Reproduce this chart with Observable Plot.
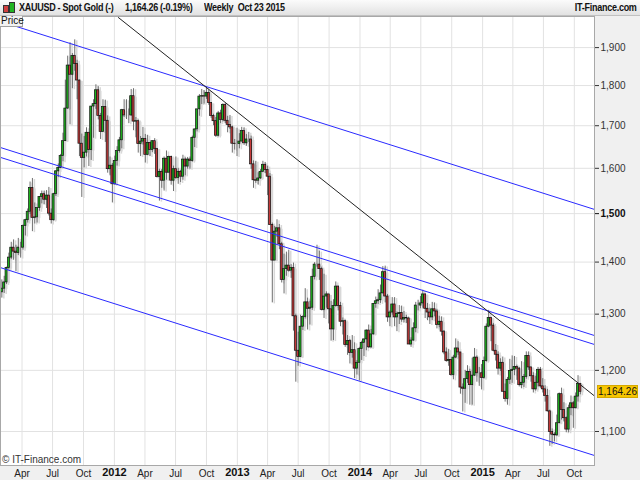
<!DOCTYPE html>
<html><head><meta charset="utf-8">
<script src="https://cdn.jsdelivr.net/npm/d3@7"></script>
<script src="https://cdn.jsdelivr.net/npm/@observablehq/plot@0.6"></script>
<style>
body{margin:0;background:#fff;font-family:"Liberation Sans",Arial,sans-serif;}
#wrap{position:relative;width:640px;height:480px;overflow:hidden;background:#f0f0f0;}
#hdr{position:absolute;left:0;top:0;width:640px;height:15px;background:linear-gradient(#fbfbfb,#e2e2e2);border-bottom:1px solid #c0c0c0;font-weight:bold;font-size:10px;letter-spacing:-0.3px;color:#111;z-index:2;}
#hdr span{position:absolute;top:1px;white-space:pre;line-height:13px;transform:scaleX(0.9);transform-origin:left center;}
#hdr span.r{transform-origin:right center;}
#chart{position:absolute;left:0;top:16px;}
#price{position:absolute;left:0;top:16px;width:21px;height:10px;border:1px solid #a0a0a0;border-top:none;border-left:none;background:#f2f2f2;font-size:10px;line-height:10px;color:#111;padding-left:1px;z-index:2;}
#copy{position:absolute;left:2px;top:454px;font-size:10px;color:#333;}
#tag{position:absolute;left:597px;width:41px;height:13px;background:#f7c600;border:1px solid #d4a800;box-sizing:border-box;font-size:10px;line-height:12px;text-align:center;color:#111;}
.ic{position:absolute;width:4px;border:1px solid #333;}
</style></head>
<body>
<div id="wrap">
  <div id="hdr">
    <div class="ic" style="left:3px;top:5px;height:6px;background:#d04040"></div>
    <div class="ic" style="left:9px;top:2px;height:9px;background:#22b422"></div>
    <span style="left:19px">XAUUSD - Spot Gold (-)</span>
    <span style="left:125px">1,164.26 (-0.19%)</span>
    <span style="left:204px">Weekly  Oct 23 2015</span>
    <span class="r" style="right:3px">IT-Finance.com</span>
  </div>
  <div id="chart"></div>
  <div id="price">Price</div>
  <div id="copy">© IT-Finance.com</div>
  <div id="tag">1,164.26</div>
</div>
<script>
// Weekly candles [open, high, low, close], weeks ending Friday, from 2011-02-04 to 2015-10-23
const w2011 = [
[1341,1365,1330,1348],[1348,1372,1339,1360],[1360,1390,1356,1388],[1388,1418,1384,1409],
[1409,1440,1405,1429],[1429,1445,1404,1421],[1421,1434,1381,1418],[1418,1448,1413,1429],
[1429,1440,1408,1429],[1429,1476,1424,1474],[1474,1488,1453,1486],[1486,1510,1480,1504],[1504,1569,1498,1556],
[1556,1577,1462,1491],[1491,1523,1478,1492],[1492,1512,1480,1512],[1512,1537,1505,1536],
[1536,1549,1521,1542],[1542,1549,1519,1530],[1530,1550,1511,1539],[1539,1557,1495,1500],
[1500,1510,1478,1486],[1486,1544,1484,1542],[1542,1595,1537,1593],[1593,1610,1579,1601],[1601,1632,1599,1628],
[1628,1682,1615,1663],[1663,1814,1662,1742],[1742,1877,1740,1852],[1852,1913,1702,1828],
[1828,1884,1792,1877],[1877,1921,1837,1856],[1856,1866,1764,1813],[1813,1814,1627,1657],[1657,1680,1535,1624],
[1624,1674,1601,1636],[1636,1695,1626,1683],[1683,1683,1604,1642],[1642,1747,1618,1747],
[1747,1764,1670,1753],[1753,1802,1740,1788],[1788,1797,1714,1724],[1724,1730,1667,1685],
[1685,1764,1684,1746],[1746,1763,1660,1712],[1712,1724,1589,1598],[1598,1626,1583,1606],[1606,1611,1523,1564]
];
const w2012 = [
[1564,1628,1562,1617],[1617,1650,1605,1640],[1640,1672,1635,1665],[1665,1740,1645,1738],
[1738,1764,1720,1725],[1725,1764,1715,1725],[1725,1741,1705,1725],[1725,1790,1723,1773],
[1773,1792,1688,1710],[1710,1720,1671,1711],[1711,1714,1635,1656],[1656,1674,1627,1662],[1662,1696,1654,1668],
[1668,1679,1612,1631],[1631,1677,1629,1659],[1659,1660,1627,1642],[1642,1664,1636,1663],
[1663,1669,1632,1645],[1645,1645,1578,1580],[1580,1598,1527,1592],[1592,1597,1555,1572],
[1572,1626,1549,1622],[1622,1640,1573,1590],[1590,1628,1590,1626],[1626,1628,1562,1572],[1572,1605,1548,1598],
[1598,1626,1575,1578],[1578,1600,1564,1592],[1592,1595,1568,1581],[1581,1630,1573,1620],
[1620,1624,1583,1604],[1604,1625,1598,1620],[1620,1626,1598,1617],[1617,1675,1614,1671],[1671,1692,1648,1691],
[1691,1740,1685,1740],[1740,1777,1723,1772],[1772,1790,1752,1773],[1773,1787,1753,1772],
[1772,1796,1765,1781],[1781,1788,1750,1756],[1756,1756,1718,1724],[1724,1728,1700,1711],
[1711,1720,1672,1676],[1676,1735,1673,1730],[1730,1738,1705,1714],[1714,1754,1709,1751],[1751,1755,1705,1712],
[1712,1723,1683,1702],[1702,1725,1691,1696],[1696,1699,1635,1657],[1657,1667,1642,1656]
];
const w2013 = [
[1656,1694,1627,1656],[1656,1681,1645,1662],[1662,1696,1662,1687],[1687,1695,1653,1658],
[1658,1679,1651,1667],[1667,1684,1660,1667],[1667,1675,1598,1609],[1609,1617,1555,1573],
[1573,1616,1566,1572],[1572,1590,1562,1577],[1577,1597,1575,1592],[1592,1616,1590,1608],[1608,1613,1588,1596],
[1596,1605,1539,1581],[1581,1588,1475,1476],[1476,1480,1321,1403],[1403,1473,1403,1462],
[1462,1487,1450,1469],[1469,1477,1425,1436],[1436,1440,1359,1365],[1365,1416,1338,1386],[1386,1420,1372,1393],
[1393,1424,1380,1383],[1383,1395,1368,1388],[1388,1398,1269,1296],[1296,1300,1180,1234],
[1234,1267,1207,1223],[1223,1298,1222,1277],[1277,1297,1270,1295],[1295,1348,1291,1322],
[1322,1330,1271,1310],[1310,1324,1280,1312],[1312,1386,1307,1371],[1371,1399,1365,1395],[1395,1434,1390,1395],
[1395,1422,1364,1386],[1386,1390,1306,1308],[1308,1376,1292,1333],[1333,1342,1311,1337],
[1337,1337,1282,1309],[1309,1324,1251,1272],[1272,1327,1252,1315],[1315,1361,1313,1352],
[1352,1353,1306,1315],[1315,1322,1277,1286],[1286,1293,1262,1287],[1287,1289,1240,1244],[1244,1261,1226,1251],
[1251,1254,1211,1230],[1230,1261,1221,1235],[1235,1248,1186,1203],[1203,1217,1192,1213]
];
const w2014 = [
[1213,1240,1182,1237],[1237,1251,1217,1248],[1248,1255,1224,1254],[1254,1271,1234,1270],[1270,1280,1238,1240],
[1240,1272,1238,1263],[1263,1319,1262,1319],[1319,1332,1311,1324],[1324,1346,1318,1326],
[1326,1355,1320,1339],[1339,1391,1338,1380],[1380,1392,1321,1333],[1333,1337,1285,1294],
[1294,1306,1277,1303],[1303,1331,1298,1318],[1318,1331,1277,1294],[1294,1304,1268,1300],
[1300,1316,1281,1302],[1302,1315,1285,1290],[1290,1305,1284,1293],[1293,1298,1283,1292],[1292,1294,1251,1245],
[1245,1257,1240,1252],[1252,1284,1251,1274],[1274,1322,1266,1316],[1316,1326,1306,1316],
[1316,1333,1310,1320],[1320,1345,1311,1337],[1337,1338,1292,1310],[1310,1320,1288,1303],
[1303,1311,1281,1294],[1294,1322,1288,1309],[1309,1321,1295,1305],[1305,1309,1273,1280],[1280,1296,1275,1286],
[1286,1295,1260,1268],[1268,1270,1227,1231],[1231,1239,1214,1216],[1216,1236,1207,1218],
[1218,1219,1190,1192],[1192,1226,1184,1222],[1222,1255,1220,1238],[1238,1250,1226,1231],[1231,1231,1160,1171],
[1171,1177,1131,1169],[1169,1200,1145,1185],[1185,1208,1178,1197],[1197,1202,1142,1175],
[1175,1221,1142,1191],[1191,1238,1190,1222],[1222,1225,1180,1195],[1195,1205,1173,1195]
];
const w2015 = [
[1195,1210,1167,1187],[1187,1223,1185,1216],[1216,1282,1214,1277],[1277,1307,1275,1293],[1293,1294,1250,1279],
[1279,1283,1232,1234],[1234,1245,1216,1227],[1227,1232,1192,1203],[1203,1220,1198,1213],
[1213,1223,1164,1164],[1164,1177,1147,1152],[1152,1188,1142,1184],[1184,1219,1176,1199],
[1199,1225,1178,1201],[1201,1224,1191,1206],[1206,1209,1183,1203],[1203,1205,1172,1175],
[1175,1215,1169,1179],[1179,1193,1171,1189],[1189,1232,1185,1225],[1225,1232,1200,1205],[1205,1206,1180,1190],
[1190,1196,1162,1168],[1168,1190,1165,1179],[1179,1205,1172,1201],[1201,1205,1170,1173],
[1173,1186,1162,1168],[1168,1174,1147,1157],[1157,1168,1131,1132],[1132,1134,1077,1099],[1099,1104,1080,1095],
[1095,1098,1084,1094],[1094,1126,1092,1113],[1113,1162,1112,1160],[1160,1170,1118,1134],
[1134,1146,1115,1121],[1121,1123,1098,1103],[1103,1142,1098,1137],[1137,1157,1125,1145],
[1145,1148,1105,1137],[1137,1162,1136,1156],[1156,1191,1147,1177],[1177,1178,1159,1164]
];
const priceTicks = [1100, 1200, 1300, 1400, 1500, 1600, 1700, 1800, 1900];
const majorPriceTick = 1500;
const lastPrice = 1164.26;

// Trend lines drawn on the chart (date, price endpoints)
const channelUpper = [{date: "2011-01-27", price: 1972}, {date: "2015-11-30", price: 1509}];
const channelMidA  = [{date: "2011-01-27", price: 1648}, {date: "2015-11-30", price: 1261}];
const channelMidB  = [{date: "2011-01-27", price: 1625}, {date: "2015-11-30", price: 1245}];
const channelLower = [{date: "2011-01-27", price: 1389}, {date: "2015-11-30", price: 1063}];
const resistance   = [{date: "2012-01-13", price: 1983}, {date: "2015-11-30", price: 1157}];

const ohlc = [...w2011, ...w2012, ...w2013, ...w2014, ...w2015];
const fridays = d3.utcFriday.range(new Date(Date.UTC(2011, 1, 4)), new Date(Date.UTC(2015, 9, 24)));
const n = Math.min(ohlc.length, fridays.length);
const candles = d3.range(n).map(i => ({
  date: d3.utcDay.offset(fridays[i], -4),
  open: ohlc[i][0], high: ohlc[i][1], low: ohlc[i][2], close: ohlc[i][3]
}));
const lines = [channelUpper, channelMidA, channelMidB, channelLower].map(l => l.map(p => ({date: new Date(p.date), price: p.price})));
const blackLine = resistance.map(p => ({date: new Date(p.date), price: p.price}));

const quarterTicks = d3.utcMonth.every(3).range(new Date(Date.UTC(2011, 3, 1)), new Date(Date.UTC(2015, 10, 1)));
const monthTicks = quarterTicks.filter(d => d.getUTCMonth() !== 0);
const yearTicks = quarterTicks.filter(d => d.getUTCMonth() === 0);
const fmt = d3.format(",");
const green = "#1db21d", red = "#c63a3a";

const chart = Plot.plot({
  width: 640, height: 464,
  marginLeft: 0, marginRight: 46, marginTop: 0, marginBottom: 15,
  style: {background: "transparent", fontFamily: "Liberation Sans, Arial, sans-serif", fontSize: "10px", color: "#333"},
  x: {type: "utc", domain: [new Date("2011-01-27"), new Date("2015-11-30")], label: null},
  y: {type: "log", domain: [1048, 1986], label: null},
  marks: [
    Plot.frame({fill: "white", stroke: null}),
    Plot.gridX(quarterTicks, {stroke: "#e2e2e2", strokeOpacity: 1}),
    Plot.gridY(priceTicks, {stroke: "#e2e2e2", strokeOpacity: 1}),
    Plot.ruleX(candles, {x: "date", y1: "low", y2: "high", stroke: "#d8d8d8", strokeWidth: 1.5, dx: 2, dy: 1}),
    Plot.ruleX(candles, {x: "date", y1: "open", y2: "close", stroke: "#d8d8d8", strokeWidth: 2.5, dx: 2, dy: 1}),
    Plot.ruleX(candles, {x: "date", y1: "low", y2: "high", stroke: "#6e6e6e", strokeWidth: 1}),
    Plot.rect(candles, {
      x1: d => d3.utcDay.offset(d.date, -3), x2: d => d3.utcDay.offset(d.date, 3),
      y1: "open", y2: "close",
      fill: d => d.close >= d.open ? green : red, stroke: "#111", strokeWidth: 0.7
    }),
    ...lines.map(l => Plot.line(l, {x: "date", y: "price", stroke: "#2a2aff", strokeWidth: 1, clip: true})),
    Plot.line(blackLine, {x: "date", y: "price", stroke: "#222", strokeWidth: 1, clip: true}),
    Plot.frame({stroke: "#a8a8a8"}),
    Plot.axisY(priceTicks.filter(v => v !== majorPriceTick), {anchor: "right", tickSize: 4, tickPadding: 2, tickFormat: fmt, fontSize: 10, color: "#333", label: null}),
    Plot.axisY([majorPriceTick], {anchor: "right", tickSize: 4, tickPadding: 2, tickFormat: fmt, fontSize: 10, fontWeight: "bold", color: "#111", label: null}),
    Plot.axisX(monthTicks, {anchor: "bottom", tickSize: 0, tickPadding: 4, tickFormat: d3.utcFormat("%b"), fontSize: 10, color: "#222", label: null}),
    Plot.axisX(yearTicks, {anchor: "bottom", tickSize: 0, tickPadding: 3, tickFormat: d3.utcFormat("%Y"), fontSize: 11, fontWeight: "bold", color: "#111", label: null})
  ]
});
document.getElementById("chart").appendChild(chart);
const tagY = 16 + chart.scale("y").apply(lastPrice);
document.getElementById("tag").style.top = (tagY - 6.5) + "px";
</script>
</body></html>
